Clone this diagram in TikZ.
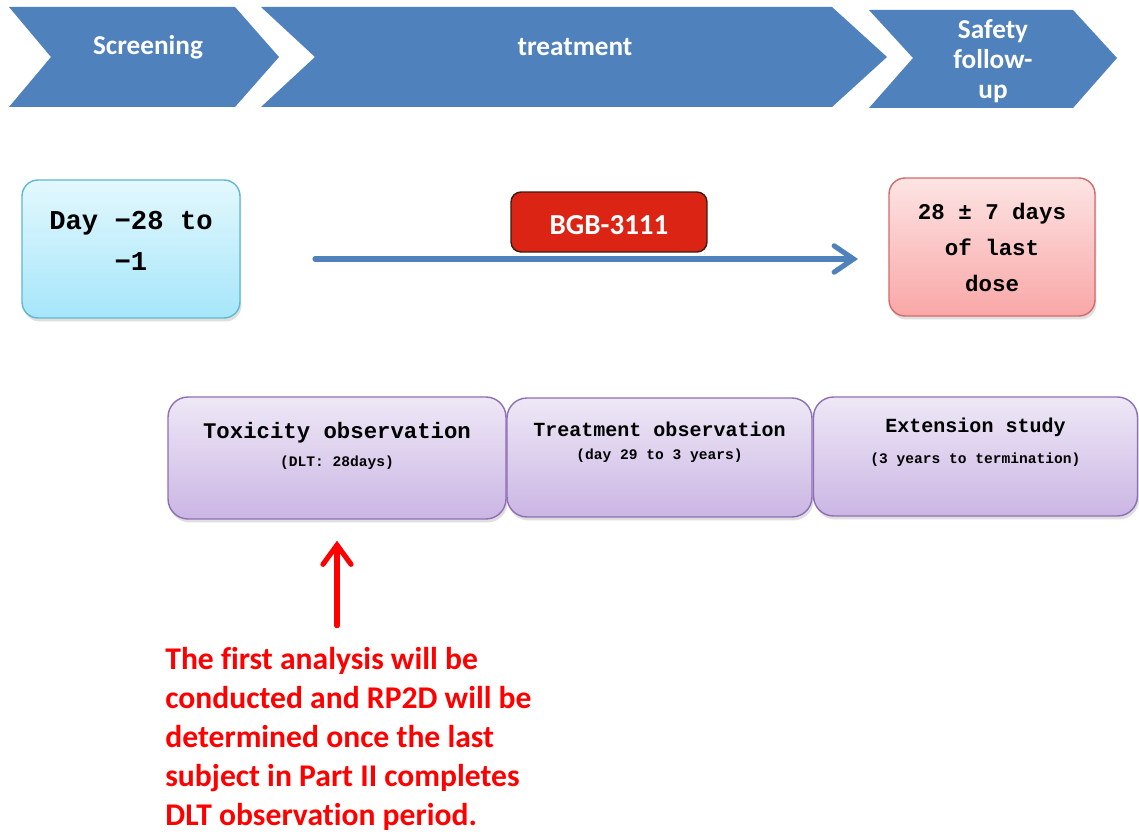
\documentclass[tikz,border=0pt]{standalone}
\usepackage{fontspec}
\setmainfont{Carlito}[Ligatures={NoCommon,NoContextual}]
\newfontfamily\monofont{Liberation Mono}
\usetikzlibrary{positioning,arrows.meta,shadows}

\definecolor{chevblue}{HTML}{4F81BD}
\definecolor{cyantop}{HTML}{E3F8FD}
\definecolor{cyanbot}{HTML}{A6E6FA}
\definecolor{cyanline}{HTML}{5FB8D2}
\definecolor{pinktop}{HTML}{FDE4E4}
\definecolor{pinkbot}{HTML}{F9A7A7}
\definecolor{pinkline}{HTML}{D26A6A}
\definecolor{purptop}{HTML}{EEE8F6}
\definecolor{purpbot}{HTML}{CBB6E4}
\definecolor{purpline}{HTML}{8E6FB5}
\definecolor{bgbred}{HTML}{DB2413}
\definecolor{bgbline}{HTML}{3B1C12}
\definecolor{notered}{HTML}{FF0000}

\tikzset{
  softshadow/.style={drop shadow={opacity=0.25, shadow xshift=0.03cm, shadow yshift=-0.07cm}},
  chevtext/.style={text=white, align=center, font=\bfseries\fontsize{15.5}{17}\selectfont},
  daybox/.style={rounded corners=0.32cm, draw=cyanline, line width=0.8pt, top color=cyantop, bottom color=cyanbot, softshadow, align=center, font=\monofont\bfseries\fontsize{15.5}{23.3}\selectfont},
  fubox/.style={rounded corners=0.32cm, draw=pinkline, line width=0.8pt, top color=pinktop, bottom color=pinkbot, softshadow, align=center, font=\monofont\bfseries\fontsize{12.8}{20.5}\selectfont},
  phasebox/.style={rounded corners=0.4cm, draw=purpline, line width=0.8pt, top color=purptop, bottom color=purpbot, softshadow},
  phasetitle/.style={font=\monofont\bfseries\fontsize{11.4}{13}\selectfont},
  phasesub/.style={font=\monofont\bfseries\fontsize{8.3}{10}\selectfont},
}

\begin{document}
\begin{tikzpicture}[x=0.02cm, y=-0.02cm]
  \useasboundingbox (0,0) rectangle (1139,834);
  \fill[white] (0,0) rectangle (1139,834);

  % study periods
  \fill[chevblue] (9,7) -- (235,7) -- (279,57) -- (235,107) -- (9,107) -- (51,57) -- cycle;
  \fill[chevblue] (261,7) -- (832,7) -- (887,57) -- (832,107) -- (261,107) -- (315,57) -- cycle;
  \fill[chevblue] (869,10) -- (1073,10) -- (1117,58) -- (1073,108) -- (869,108) -- (913,58) -- cycle;
  \node[chevtext] (screen) at (148,47) {Screening};
  \node[chevtext] (treat) at (575,47) {treatment};
  \node[chevtext] (safety) at (993,61) {Safety\\follow-\\up};

  % dosing
  \node[daybox, minimum width=4.36cm, minimum height=2.76cm, text depth=0.34cm] (day) at (131,249) {Day −28 to\\−1};
  \node[fubox, minimum width=4.12cm, minimum height=2.76cm] (fu) at (992,247) {28 ± 7 days\\of last\\dose};
  \coordinate (doseA) at (315,259);
  \coordinate (doseB) at (858,259);
  \draw[chevblue, line width=2.9pt, line cap=round, -{Straight Barb[length=11pt, width=15pt, line cap=round]}] (doseA) -- (doseB);
  \node[rounded corners=0.2cm, draw=bgbline, line width=0.8pt, fill=bgbred, text=white, text height=0.5cm,
        font=\bfseries\fontsize{16.5}{18}\selectfont, minimum width=3.92cm, minimum height=1.2cm] (drug) at (609,222) {BGB-3111};

  % observation phases
  \node[phasebox, minimum width=6.76cm, minimum height=2.44cm] (tox) at (337,458) {};
  \node[phasebox, minimum width=6.10cm, minimum height=2.38cm] (trobs) at (659.5,457.5) {};
  \node[phasebox, minimum width=6.48cm, minimum height=2.38cm] (ext) at (975.5,456.5) {};
  \node[phasetitle, font=\monofont\bfseries\fontsize{12.7}{14}\selectfont] (toxT) at ([yshift=-0.72cm]tox.north) {Toxicity observation};
  \node[phasesub] (toxS) at ([yshift=-1.32cm]tox.north) {(DLT: 28days)};
  \node[phasetitle] (trobsT) at ([yshift=-0.64cm]trobs.north) {Treatment observation};
  \node[phasesub] (trobsS) at ([yshift=-1.16cm]trobs.north) {(day 29 to 3 years)};
  \node[phasetitle] (extT) at ([yshift=-0.62cm]ext.north) {Extension study};
  \node[phasesub] (extS) at ([yshift=-1.26cm]ext.north) {(3 years to termination)};

  % first analysis
  \node[anchor=north west, inner sep=0pt, align=left, text=notered,
        font=\bfseries\fontsize{18}{22.2}\selectfont] (note) at (165,647)
        {The first analysis will be\\conducted and RP2D will be\\determined once the last\\subject in Part II completes\\DLT observation period.};
  \draw[notered, line width=2.9pt, line cap=round, shorten >=0.42cm,
        -{Straight Barb[length=11pt, width=16pt, line cap=round]}] ([yshift=-2.12cm]tox.south) -- (tox.south);
\end{tikzpicture}
\end{document}
